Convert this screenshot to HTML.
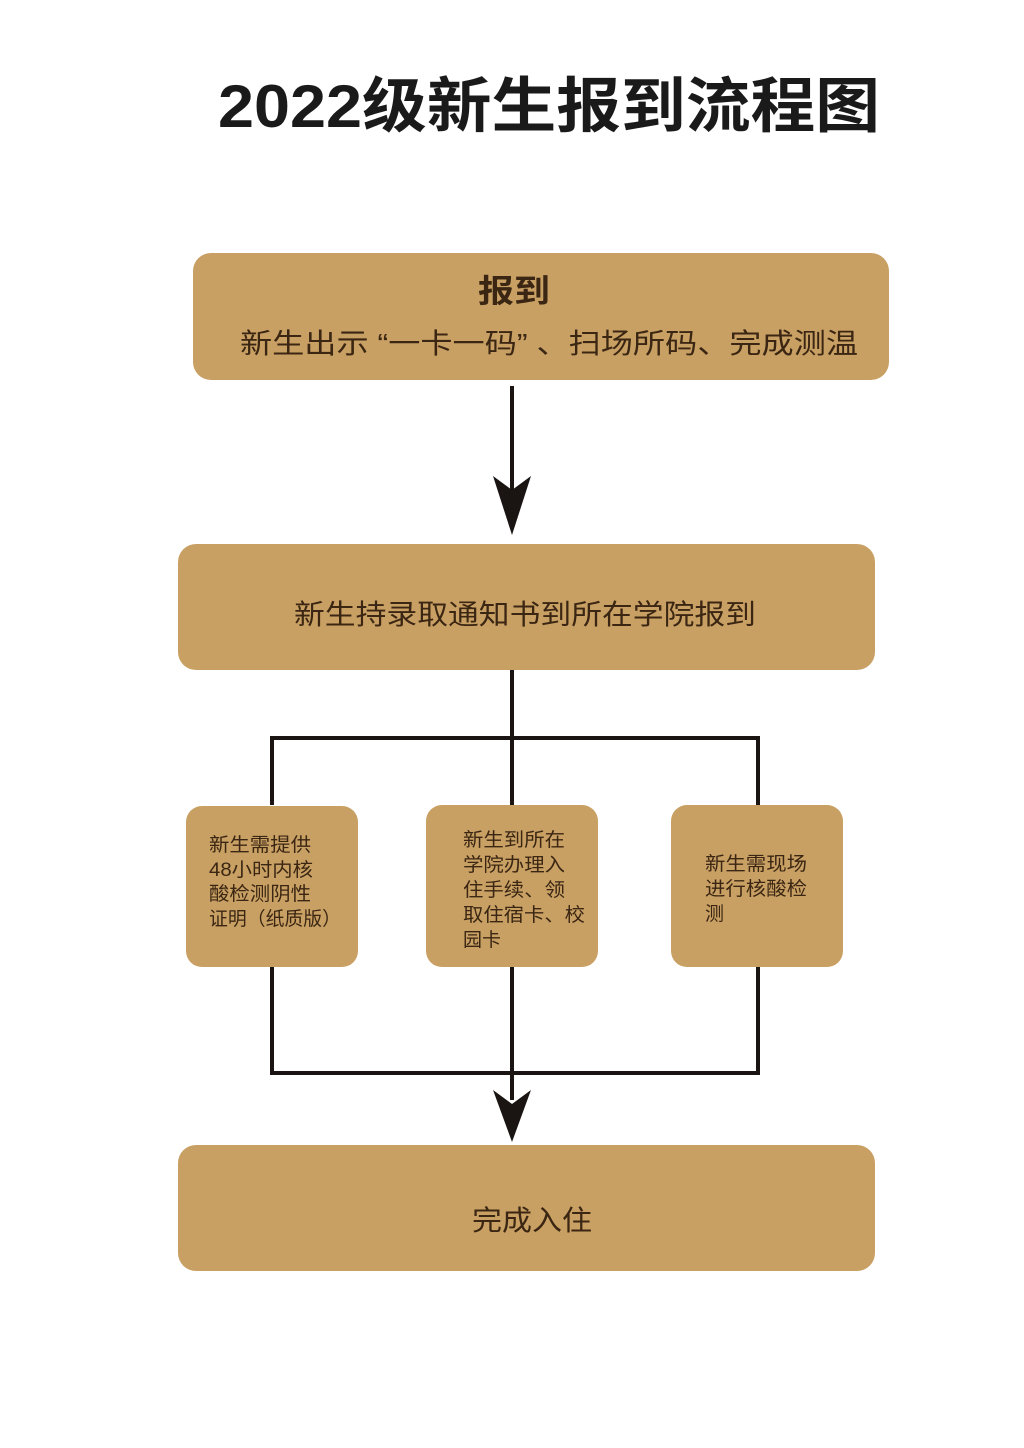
<!DOCTYPE html>
<html><head><meta charset="utf-8"><style>
html,body{margin:0;padding:0;background:#fff;}
svg{display:block}
text{font-family:"Liberation Sans","Noto Sans CJK SC",sans-serif;fill:#3a2612}
</style></head><body>
<svg width="1024" height="1448" viewBox="0 0 1024 1448" xmlns="http://www.w3.org/2000/svg">
<rect width="1024" height="1448" fill="#fff"/>
<text x="218" y="127" font-size="60" font-weight="bold" style="fill:#1a1a1a" textLength="662" lengthAdjust="spacingAndGlyphs">2022级新生报到流程图</text>

<g stroke="#1a1512" stroke-width="4" fill="none">
<line x1="512" y1="386" x2="512" y2="490"/>
<line x1="512" y1="670" x2="512" y2="1100"/>
<polyline points="272,805 272,738 758,738 758,805"/>
<polyline points="272,967 272,1073 758,1073 758,967"/>
</g>
<g fill="#1a1512">
<path d="M493,476 L512,490 L531,476 L512,535 Z"/>
<path d="M493,1090 L512,1104 L531,1090 L512,1142 Z"/>
</g>

<g fill="#c9a064">
<rect x="193" y="253" width="696" height="127" rx="18"/>
<rect x="178" y="544" width="697" height="126" rx="18"/>
<rect x="186" y="806" width="172" height="161" rx="16"/>
<rect x="426" y="805" width="172" height="162" rx="16"/>
<rect x="671" y="805" width="172" height="162" rx="16"/>
<rect x="178" y="1145" width="697" height="126" rx="18"/>
</g>

<text x="478" y="302" font-size="32" font-weight="bold" textLength="72" lengthAdjust="spacingAndGlyphs">报到</text>
<text x="240" y="353" font-size="28" textLength="618" lengthAdjust="spacingAndGlyphs">新生出示 “一卡一码” 、扫场所码、完成测温</text>
<text x="294" y="624" font-size="28" textLength="462" lengthAdjust="spacingAndGlyphs">新生持录取通知书到所在学院报到</text>
<text x="472" y="1230" font-size="28" textLength="120" lengthAdjust="spacingAndGlyphs">完成入住</text>

<g font-size="19">
<text x="209" y="851" textLength="102" lengthAdjust="spacingAndGlyphs">新生需提供</text>
<text x="209" y="876" textLength="104" lengthAdjust="spacingAndGlyphs">48小时内核</text>
<text x="209" y="900" textLength="102" lengthAdjust="spacingAndGlyphs">酸检测阴性</text>
<text x="209" y="925" textLength="132" lengthAdjust="spacingAndGlyphs">证明（纸质版）</text>

<text x="463" y="846" textLength="102" lengthAdjust="spacingAndGlyphs">新生到所在</text>
<text x="463" y="871" textLength="102" lengthAdjust="spacingAndGlyphs">学院办理入</text>
<text x="463" y="896" textLength="102" lengthAdjust="spacingAndGlyphs">住手续、领</text>
<text x="463" y="921" textLength="122" lengthAdjust="spacingAndGlyphs">取住宿卡、校</text>
<text x="463" y="946">园卡</text>

<text x="705" y="870" textLength="102" lengthAdjust="spacingAndGlyphs">新生需现场</text>
<text x="705" y="895" textLength="102" lengthAdjust="spacingAndGlyphs">进行核酸检</text>
<text x="705" y="920">测</text>
</g>
</svg>
</body></html>
